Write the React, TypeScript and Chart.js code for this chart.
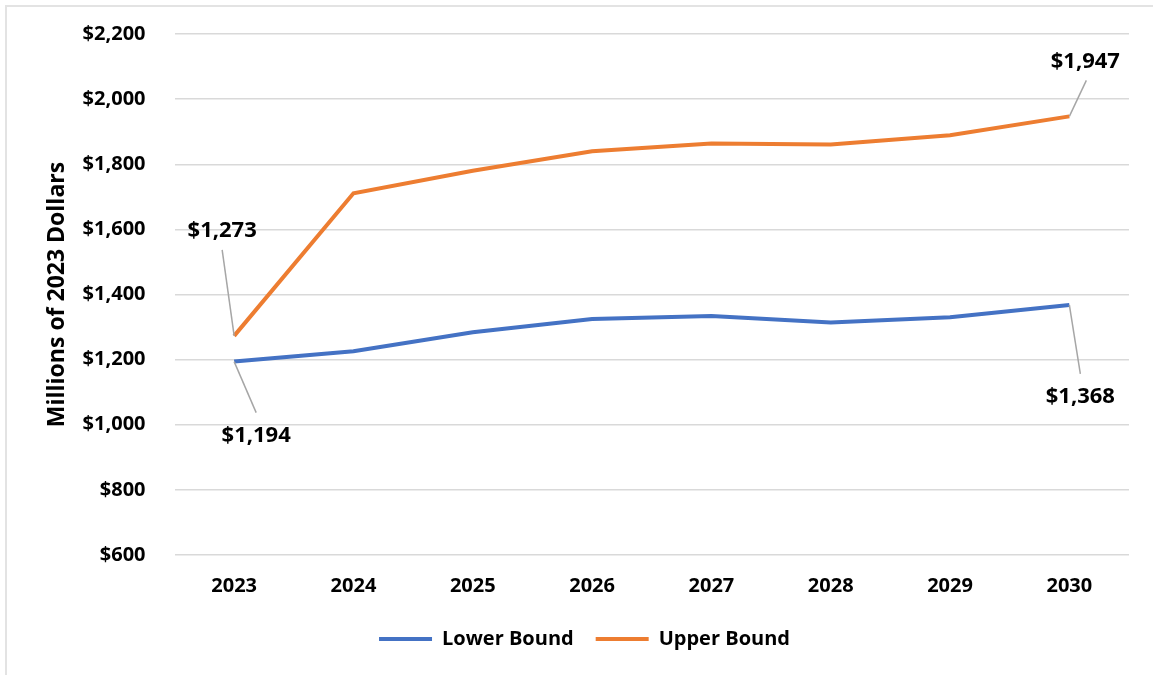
import React, { useEffect, useRef } from "react";
import { Chart, registerables } from "chart.js";

Chart.register(...registerables);

// Projected annual amounts, millions of 2023 dollars
const years = ["2023", "2024", "2025", "2026", "2027", "2028", "2029", "2030"];
const lowerBound = [1194, 1226, 1284, 1325, 1334, 1314, 1330, 1368];
const upperBound = [1273, 1711, 1780, 1840, 1864, 1861, 1889, 1947];
const yMin = 600;
const yMax = 2200;
const yStep = 200;

const FONT = "'Open Sans', 'Noto Sans', 'Liberation Sans', sans-serif";
const BLUE = "#4472C4";
const ORANGE = "#ED7D31";
const GRID = "#d9d9d9";

const money = (v: number) => "$" + v.toLocaleString("en-US");

// Callouts with a leader line: which point, where the text sits, where the leader ends
const callouts = [
  { ds: 1, i: 0, tx: -12, ty: -105, lx: -12, ly: -86 },
  { ds: 0, i: 0, tx: 22, ty: 74, lx: 22, ly: 51 },
  { ds: 1, i: 7, tx: 16, ty: -55, lx: 17, ly: -36 },
  { ds: 0, i: 7, tx: 11, ty: 92, lx: 11, ly: 69 },
];

const calloutPlugin = {
  id: "callouts",
  afterDatasetsDraw(chart: any) {
    const { ctx } = chart;
    const xs = chart.scales.x;
    const ys = chart.scales.y;
    ctx.save();
    for (const c of callouts) {
      const v = chart.data.datasets[c.ds].data[c.i] as number;
      const px = xs.getPixelForValue(c.i);
      const py = ys.getPixelForValue(v);
      ctx.strokeStyle = "#a6a6a6";
      ctx.lineWidth = 1.5;
      ctx.beginPath();
      ctx.moveTo(px, py);
      ctx.lineTo(px + c.lx, py + c.ly);
      ctx.stroke();
      ctx.fillStyle = "#000";
      ctx.font = `bold 22px ${FONT}`;
      ctx.textAlign = "center";
      ctx.textBaseline = "middle";
      ctx.fillText(money(v), px + c.tx, py + c.ty);
    }
    ctx.restore();
  },
};

export default function App() {
  const canvasRef = useRef<HTMLCanvasElement | null>(null);

  useEffect(() => {
    const canvas = canvasRef.current;
    if (!canvas) return;
    const chart = new Chart(canvas, {
      type: "line",
      data: {
        labels: years,
        datasets: [
          {
            label: "Lower Bound",
            data: lowerBound,
            borderColor: BLUE,
            backgroundColor: BLUE,
            borderWidth: 4,
            pointRadius: 0,
            tension: 0,
          },
          {
            label: "Upper Bound",
            data: upperBound,
            borderColor: ORANGE,
            backgroundColor: ORANGE,
            borderWidth: 4,
            pointRadius: 0,
            tension: 0,
          },
        ],
      },
      options: {
        animation: false,
        responsive: false,
        layout: { padding: { top: 34, right: 24, left: 40, bottom: 16 } },
        plugins: {
          tooltip: { enabled: false },
          legend: {
            position: "bottom",
            labels: {
              usePointStyle: true,
              pointStyle: "line",
              pointStyleWidth: 53,
              boxHeight: 20,
              padding: 22,
              color: "#000",
              font: { family: FONT, size: 20, weight: "bold" },
            },
          },
        },
        scales: {
          x: {
            offset: true,
            grid: { display: false, drawTicks: false },
            border: { display: false },
            ticks: {
              padding: 19,
              color: "#000",
              font: { family: FONT, size: 20, weight: "bold" },
            },
            afterFit(axis: any) {
              axis.height = 52;
            },
          },
          y: {
            min: yMin,
            max: yMax,
            grid: {
              color: GRID,
              lineWidth: 1.5,
              drawTicks: true,
              tickLength: 29,
              tickColor: "rgba(0,0,0,0)",
            },
            border: { display: false },
            ticks: {
              stepSize: yStep,
              padding: 0,
              color: "#000",
              font: { family: FONT, size: 20, weight: "bold" },
              callback: (v: any) => money(Number(v)),
            },
            title: {
              display: true,
              text: "Millions of 2023 Dollars",
              color: "#000",
              font: { family: FONT, size: 23, weight: "bold" },
              padding: { top: 4, bottom: 0 },
            },
            afterFit(axis: any) {
              axis.width = 134.5;
            },
          },
        },
      },
      plugins: [calloutPlugin],
    });
    return () => chart.destroy();
  }, []);

  return (
    <div style={{ position: "absolute", left: 0, top: 0, width: 1153, height: 675, background: "#fff", overflow: "hidden" }}>
      <div
        style={{
          position: "absolute",
          left: 5,
          top: 5,
          width: 1200,
          height: 720,
          border: "2px solid #e3e3e3",
          boxSizing: "border-box",
        }}
      />
      <canvas ref={canvasRef} width={1153} height={675} style={{ position: "absolute", left: 0, top: 0 }} />
    </div>
  );
}
